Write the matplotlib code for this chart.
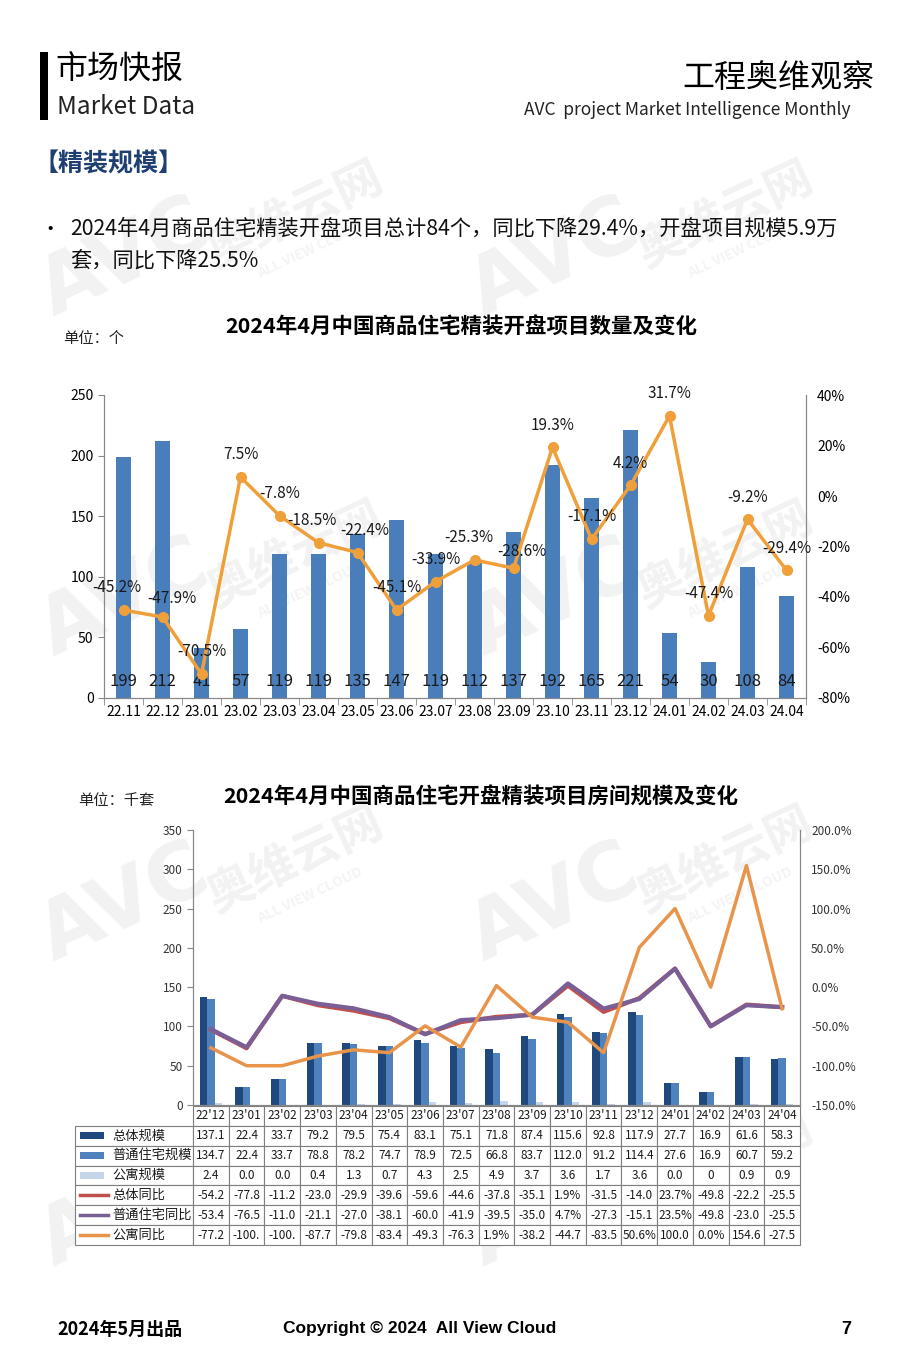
import numpy as np
import matplotlib
matplotlib.use("Agg")
import matplotlib.pyplot as plt
from matplotlib.patches import Rectangle
from matplotlib.lines import Line2D
from matplotlib.ticker import FuncFormatter

plt.rcParams['font.family'] = ['Noto Sans CJK SC', 'DejaVu Sans']

# ---- chart 1: project counts ----
months1 = ["22.11", "22.12", "23.01", "23.02", "23.03", "23.04", "23.05", "23.06", "23.07",
           "23.08", "23.09", "23.10", "23.11", "23.12", "24.01", "24.02", "24.03", "24.04"]
counts = [199, 212, 41, 57, 119, 119, 135, 147, 119, 112, 137, 192, 165, 221, 54, 30, 108, 84]
count_yoy = [-45.2, -47.9, -70.5, 7.5, -7.8, -18.5, -22.4, -45.1, -33.9, -25.3, -28.6,
             19.3, -17.1, 4.2, 31.7, -47.4, -9.2, -29.4]

# ---- chart 2: room scale (thousand units) ----
months2 = ["22'12", "23'01", "23'02", "23'03", "23'04", "23'05", "23'06", "23'07", "23'08",
           "23'09", "23'10", "23'11", "23'12", "24'01", "24'02", "24'03", "24'04"]
total_scale = [137.1, 22.4, 33.7, 79.2, 79.5, 75.4, 83.1, 75.1, 71.8, 87.4, 115.6, 92.8,
               117.9, 27.7, 16.9, 61.6, 58.3]
resid_scale = [134.7, 22.4, 33.7, 78.8, 78.2, 74.7, 78.9, 72.5, 66.8, 83.7, 112.0, 91.2,
               114.4, 27.6, 16.9, 60.7, 59.2]
apt_scale = [2.4, 0.0, 0.0, 0.4, 1.3, 0.7, 4.3, 2.5, 4.9, 3.7, 3.6, 1.7, 3.6, 0.0, 0, 0.9, 0.9]
total_yoy = [-54.2, -77.8, -11.2, -23.0, -29.9, -39.6, -59.6, -44.6, -37.8, -35.1, 1.9,
             -31.5, -14.0, 23.7, -49.8, -22.2, -25.5]
resid_yoy = [-53.4, -76.5, -11.0, -21.1, -27.0, -38.1, -60.0, -41.9, -39.5, -35.0, 4.7,
             -27.3, -15.1, 23.5, -49.8, -23.0, -25.5]
apt_yoy = [-77.2, -100.0, -100.0, -87.7, -79.8, -83.4, -49.3, -76.3, 1.9, -38.2, -44.7,
           -83.5, 50.6, 100.0, 0.0, 154.6, -27.5]
row_names = ["总体规模", "普通住宅规模", "公寓规模", "总体同比", "普通住宅同比", "公寓同比"]

W, H = 907, 1360


def P(x, y):
    return x / W, 1 - y / H


fig = plt.figure(figsize=(W / 100, H / 100), dpi=100)

# watermarks
for wy in [260, 600, 905, 1210]:
    for wx in [125, 555]:
        fig.text(*P(wx, wy), "AVC", fontsize=58, fontweight="bold", color="#F2F2F2",
                 rotation=25, ha="center", va="center", zorder=-5, family="DejaVu Sans")
        fig.text(*P(wx + 170, wy - 45), "奥维云网", fontsize=34, fontweight="bold",
                 color="#F2F2F2", rotation=25, ha="center", va="center", zorder=-5)
        fig.text(*P(wx + 185, wy - 10), "ALL VIEW CLOUD", fontsize=10, fontweight="bold",
                 color="#F4F4F4", rotation=25, ha="center", va="center", zorder=-5)

# header
fig.add_artist(Rectangle(P(40, 120), 8 / W, 68 / H, transform=fig.transFigure,
                         color="black", lw=0))
fig.text(*P(55, 70), "市场快报", fontsize=23, va="center", ha="left")
fig.text(*P(57, 107), "Market Data", fontsize=17.5, va="center", ha="left", color="#222222")
fig.text(*P(874, 78), "工程奥维观察", fontsize=23, va="center", ha="right")
fig.text(*P(851, 110), "AVC  project Market Intelligence Monthly", fontsize=12.5,
         va="center", ha="right", color="#222222")
fig.text(*P(33, 164), "【精装规模】", fontsize=18, fontweight="bold", va="center",
         ha="left", color="#1F3F73")
fig.text(*P(40, 229), "•", fontsize=14, va="center", ha="left")
fig.text(*P(70, 229), "2024年4月商品住宅精装开盘项目总计84个，同比下降29.4%，开盘项目规模5.9万",
         fontsize=15.3, va="center", ha="left", color="#111111")
fig.text(*P(70, 261), "套，同比下降25.5%", fontsize=15.3, va="center", ha="left",
         color="#111111")

# ---------------- chart 1 ----------------
fig.text(*P(461, 326), "2024年4月中国商品住宅精装开盘项目数量及变化", fontsize=15.5,
         fontweight="bold", ha="center", va="center")
fig.text(*P(63, 339), "单位：个", fontsize=11, ha="left", va="center", color="#222222")

ax1 = fig.add_axes([104 / W, 1 - 698 / H, 702 / W, 303 / H])
ax1.patch.set_alpha(0)
x1 = np.arange(len(months1))
ax1.bar(x1, counts, width=0.4, color="#4A7EBB", zorder=2)
ax1.set_xlim(-0.5, len(months1) - 0.5)
ax1.set_ylim(0, 250)
ax1.set_yticks(range(0, 251, 50))
ax1.set_xticks(x1)
ax1.set_xticklabels(months1, fontsize=10)
ax1.set_xticks(np.arange(-0.5, len(months1)), minor=True)
ax1.tick_params(axis="x", which="major", length=0, pad=5)
ax1.tick_params(axis="x", which="minor", length=5, color="#888888")
ax1.tick_params(axis="y", labelsize=10, length=4, color="#888888")
for i, v in enumerate(counts):
    ax1.text(i, 14, str(v), ha="center", va="center", fontsize=12, color="#1A1A1A", zorder=3)

ax1b = ax1.twinx()
ax1b.plot(x1, np.array(count_yoy) / 100, color="#F0A03A", lw=2.5, marker="o", ms=7, zorder=3)
ax1b.set_ylim(-0.8, 0.4)
ax1b.set_yticks(np.arange(-0.8, 0.41, 0.2))
ax1b.yaxis.set_major_formatter(FuncFormatter(lambda v, _: f"{int(round(v * 100))}%"))
ax1b.tick_params(axis="y", labelsize=10, length=0, pad=8)
# small nudges so neighbouring labels don't collide
nudge = {0: (-5, 0), 1: (7, -3), 5: (-5, 0), 6: (5, 0), 9: (-4, 0), 10: (6, -4)}
for i, v in enumerate(count_yoy):
    dx, dy = nudge.get(i, (0, 0))
    ax1b.annotate(f"{v}%", (i, v / 100), xytext=(dx, 16 + dy), textcoords="offset points",
                  ha="center", va="center", fontsize=11, color="#1A1A1A")
for a in (ax1, ax1b):
    a.spines["top"].set_visible(False)
    for s in ("left", "right", "bottom"):
        a.spines[s].set_color("#888888")

# ---------------- chart 2 ----------------
fig.text(*P(481, 797), "2024年4月中国商品住宅开盘精装项目房间规模及变化", fontsize=15.5,
         fontweight="bold", ha="center", va="center")
fig.text(*P(78, 801), "单位：千套", fontsize=11, ha="left", va="center", color="#222222")

ax2 = fig.add_axes([193 / W, 1 - 1105 / H, 607 / W, 275 / H])
ax2.patch.set_alpha(0)
x2 = np.arange(len(months2))
bw = 0.21
ax2.bar(x2 - bw, total_scale, width=bw, color="#1F497D", zorder=2)
ax2.bar(x2, resid_scale, width=bw, color="#4F81BD", zorder=2)
ax2.bar(x2 + bw, apt_scale, width=bw, color="#C6D6EA", zorder=2)
ax2.set_xlim(-0.5, len(months2) - 0.5)
ax2.set_ylim(0, 350)
ax2.set_yticks(range(0, 351, 50))
ax2.set_xticks([])
ax2.tick_params(axis="y", labelsize=8.5, length=4, color="#888888", labelcolor="#333333")

ax2b = ax2.twinx()
ax2b.plot(x2, total_yoy, color="#C0504D", lw=3, zorder=3)
ax2b.plot(x2, resid_yoy, color="#7A5F96", lw=3, zorder=4)
ax2b.plot(x2, apt_yoy, color="#E8944A", lw=2.5, zorder=5)
ax2b.set_ylim(-150, 200)
ax2b.set_yticks(range(-150, 201, 50))
ax2b.yaxis.set_major_formatter(FuncFormatter(lambda v, _: f"{v:.1f}%"))
ax2b.tick_params(axis="y", labelsize=8.5, length=0, pad=8, labelcolor="#333333")
for a in (ax2, ax2b):
    a.spines["top"].set_visible(False)
    for s in ("left", "right", "bottom"):
        a.spines[s].set_color("#888888")


def pct_text(v):
    return f"{v:.1f}%"[:5]


apt_text = [f"{v:.1f}" if isinstance(v, float) else str(v) for v in apt_scale]
cell_text = [
    [""] + [f"{v:.1f}" for v in total_scale],
    [""] + [f"{v:.1f}" for v in resid_scale],
    [""] + apt_text,
    [""] + [pct_text(v) for v in total_yoy],
    [""] + [pct_text(v) for v in resid_yoy],
    [""] + [pct_text(v) for v in apt_yoy],
]
label_w = 118.0
col_w = 607.0 / len(months2)
tbl = ax2.table(cellText=cell_text, colLabels=[""] + months2,
                colWidths=[label_w] + [col_w] * len(months2), cellLoc="center",
                bbox=[-label_w / 607, -140 / 275, (607 + label_w) / 607, 139 / 275])
tbl.auto_set_font_size(False)
for (r, c), cell in tbl.get_celld().items():
    cell.set_edgecolor("#7F7F7F")
    cell.set_linewidth(0.8)
    cell.get_text().set_fontsize(8.5)
    cell.get_text().set_color("#1A1A1A")
    cell.PAD = 0.02
tbl[0, 0].visible_edges = "open"

# row labels with legend keys
key_styles = [("bar", "#1F497D"), ("bar", "#4F81BD"), ("bar", "#C6D6EA"),
              ("line", "#C0504D"), ("line", "#7A5F96"), ("line", "#E8944A")]
row_h = 139 / 7
for k, (name, (kind, col)) in enumerate(zip(row_names, key_styles)):
    yc = 1106 + row_h * (k + 1.5)
    if kind == "bar":
        fig.add_artist(Rectangle(P(80, yc + 3.5), 24 / W, 7 / H, transform=fig.transFigure,
                                 color=col, lw=0))
    else:
        x0, y0 = P(80, yc)
        x1p, _ = P(108, yc)
        fig.add_artist(Line2D([x0, x1p], [y0, y0], transform=fig.transFigure, color=col, lw=2.5))
    fig.text(*P(112, yc), name, fontsize=9.5, ha="left", va="center", color="#1A1A1A")

# footer
fig.text(*P(57, 1329), "2024年5月出品", fontsize=13, fontweight="bold", ha="left", va="center")
fig.text(*P(283, 1328), "Copyright © 2024  All View Cloud", fontsize=12.5, fontweight="bold",
         ha="left", va="center", family=["Liberation Sans", "DejaVu Sans"])
fig.text(*P(851, 1329), "7", fontsize=13, fontweight="bold", ha="right", va="center",
         family=["Liberation Sans", "DejaVu Sans"])

fig.savefig("out.png", dpi=100, facecolor="white")
